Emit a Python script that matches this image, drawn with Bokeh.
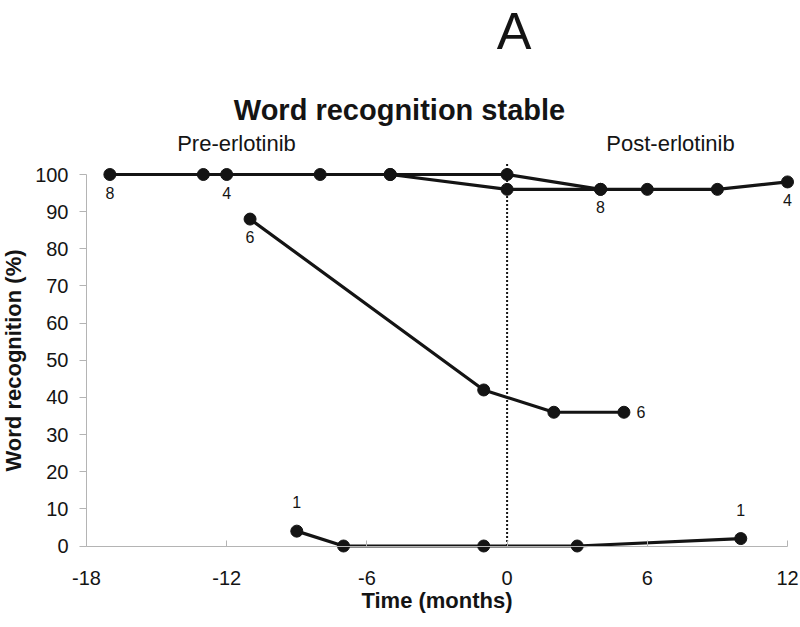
from bokeh.plotting import figure
from bokeh.models import Range1d, LinearAxis, FixedTicker, Label, ColumnDataSource, Grid, PrintfTickFormatter
from bokeh.embed import file_html
from bokeh.resources import INLINE
from bokeh.core.properties import value

# ---- data ----
months_p8 = [-17, -13, -8, -5, 0, 4]
recog_p8 = [100, 100, 100, 100, 100, 96]
months_p4 = [-12, -5, 0, 4, 6, 9, 12]
recog_p4 = [100, 100, 96, 96, 96, 96, 98]
months_p6 = [-11, -1, 2, 5]
recog_p6 = [88, 42, 36, 36]
months_p1 = [-9, -7, -1, 3, 10]
recog_p1 = [4, 0, 0, 0, 2]

label_x = [-17, -12, 4, 12, -11, 5, -9, 10]
label_y = [100, 100, 96, 98, 88, 36, 4, 2]
label_text = ["8", "4", "8", "4", "6", "6", "1", "1"]
label_pos = ["below", "below", "below", "below", "below", "right", "above", "above"]

x_ticks = [-18, -12, -6, 0, 6, 12]
y_ticks = [0, 10, 20, 30, 40, 50, 60, 70, 80, 90, 100]
erlotinib_start = 0
divider_top = 103

title_text = "Word recognition stable"
panel_letter = "A"
pre_text = "Pre-erlotinib"
post_text = "Post-erlotinib"
x_label = "Time (months)"
y_label = "Word recognition (%)"

# ---- layout geometry: the frame fills the whole canvas ----
W, H = 800, 627
PX_PER_MONTH = (787 - 86) / 30.0
PX_PER_UNIT = (545.5 - 174) / 100.0
X0 = x_ticks[0] - 86 / PX_PER_MONTH
X1 = X0 + W / PX_PER_MONTH
Y1 = 100 + 174 / PX_PER_UNIT
Y0 = Y1 - H / PX_PER_UNIT

def dx(cx):
    return X0 + cx / PX_PER_MONTH

def dy(cy):
    return Y1 - cy / PX_PER_UNIT

FONT = "Liberation Sans"
INK = "#141414"
AXIS_GREY = "#b4b4b4"

p = figure(width=W, height=H, x_range=Range1d(X0, X1), y_range=Range1d(Y0, Y1),
           output_backend="svg", toolbar_location=None,
           x_axis_location=None, y_axis_location=None,
           min_border_left=0, min_border_right=0,
           min_border_top=0, min_border_bottom=0,
           outline_line_color=None, background_fill_color="white",
           border_fill_color="white")
p.title.visible = False
for g in p.select(type=Grid):
    g.visible = False

xaxis = LinearAxis(fixed_location=0, ticker=FixedTicker(ticks=x_ticks), bounds=(x_ticks[0], x_ticks[-1]),
                   axis_label=x_label, formatter=PrintfTickFormatter(format="%d"))
yaxis = LinearAxis(fixed_location=x_ticks[0], ticker=FixedTicker(ticks=y_ticks), bounds=(y_ticks[0], y_ticks[-1]),
                   axis_label=y_label, formatter=PrintfTickFormatter(format="%d"))
for ax in (xaxis, yaxis):
    ax.axis_line_color = AXIS_GREY
    ax.major_tick_line_color = AXIS_GREY
    ax.minor_tick_line_color = None
    ax.major_label_text_font = FONT
    ax.major_label_text_font_size = "20px"
    ax.major_label_text_color = INK
    ax.axis_label_text_font = FONT
    ax.axis_label_text_font_style = "bold"
    ax.axis_label_text_font_size = "22px"
    ax.axis_label_text_color = INK
xaxis.major_tick_in = 6
xaxis.major_tick_out = 0
xaxis.major_label_standoff = 25
xaxis.axis_label_standoff = -1
yaxis.major_tick_in = 0
yaxis.major_tick_out = 7
yaxis.major_label_standoff = 11
yaxis.axis_label_standoff = 6
p.add_layout(xaxis, "below")
p.add_layout(yaxis, "left")

# treatment start marker
p.segment(x0=[erlotinib_start], y0=[y_ticks[0]], x1=[erlotinib_start], y1=[divider_top],
          line_color=INK, line_width=2, line_dash="2 2")

for xs, ys in ((months_p8, recog_p8), (months_p4, recog_p4), (months_p6, recog_p6), (months_p1, recog_p1)):
    p.line(xs, ys, line_color=INK, line_width=3.2)
    p.scatter(xs, ys, size=12, marker="circle", fill_color=INK, line_color=INK)

offsets = {"below": (0, 18), "above": (0, -29), "right": (17, 0)}
src = ColumnDataSource(dict(x=label_x, y=label_y, t=label_text,
                            xo=[offsets[k][0] for k in label_pos],
                            yo=[offsets[k][1] for k in label_pos]))
p.text(x="x", y="y", text="t", x_offset="xo", y_offset="yo", source=src,
       text_font=value(FONT), text_font_size="16px", text_color=INK,
       text_align="center", text_baseline="middle")

p.add_layout(Label(x=dx(513.5), y=dy(1), text=panel_letter, text_font=FONT,
                   text_font_size="52px", text_color=INK, text_align="center",
                   text_baseline="top"))
p.add_layout(Label(x=dx(399), y=dy(93), text=title_text, text_font=FONT,
                   text_font_size="29px", text_font_style="bold", text_color=INK,
                   text_align="center", text_baseline="top"))
p.add_layout(Label(x=dx(236), y=dy(130), text=pre_text, text_font=FONT,
                   text_font_size="22px", text_color=INK, text_align="center",
                   text_baseline="top"))
p.add_layout(Label(x=dx(670), y=dy(130), text=post_text, text_font=FONT,
                   text_font_size="22px", text_color=INK, text_align="center",
                   text_baseline="top"))

open("out.html", "w").write(file_html(p, INLINE))
